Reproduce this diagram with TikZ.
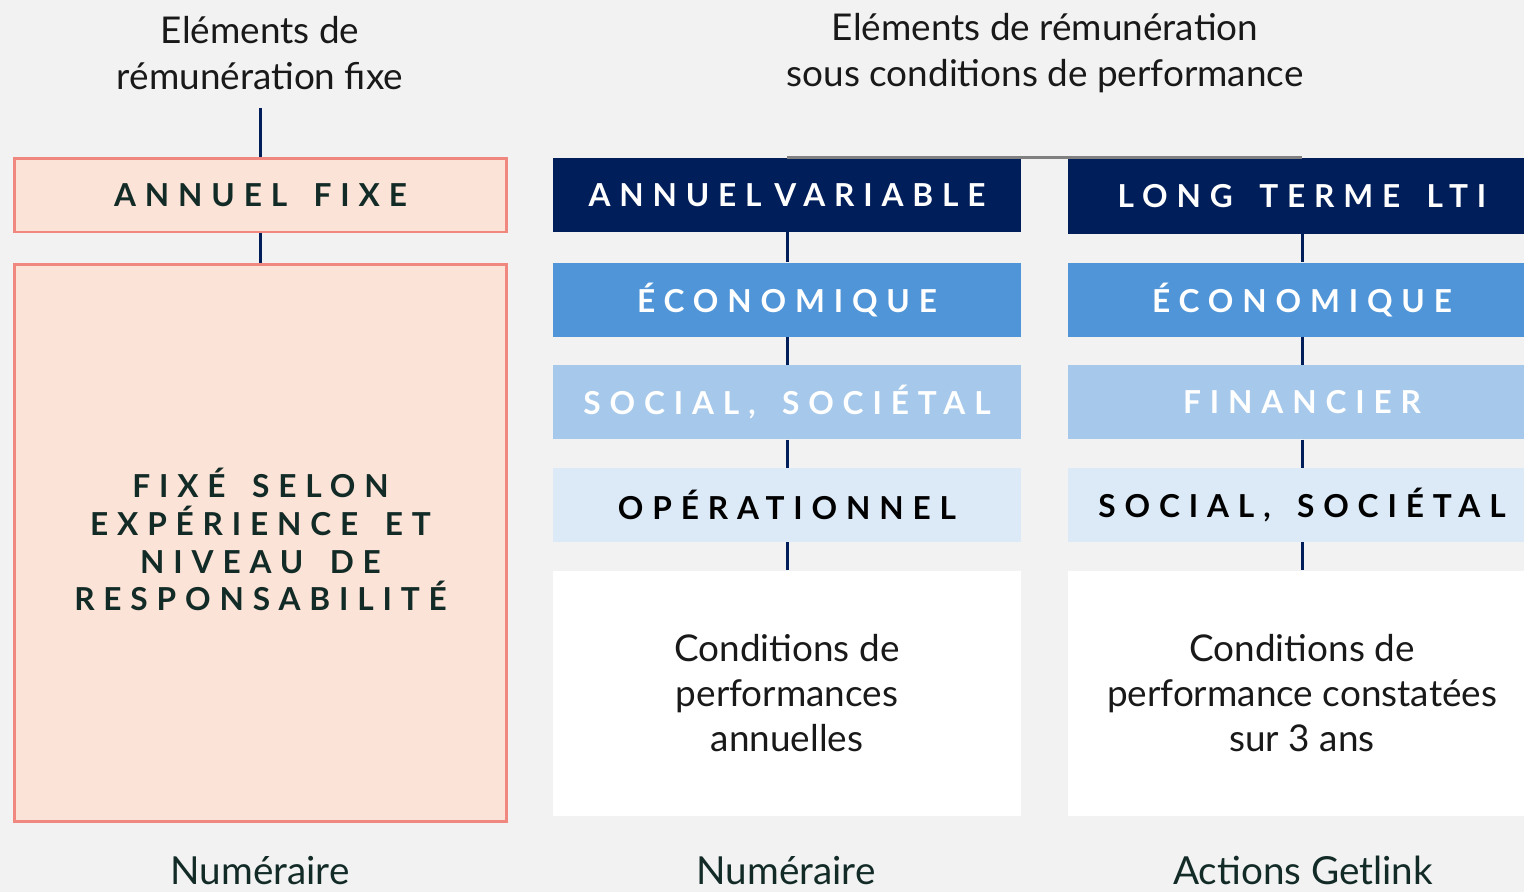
\documentclass[tikz,border=0pt]{standalone}
\usepackage{fontspec}
\setmainfont{Lato}
\newfontfamily\capsfont[LetterSpace=28, WordSpace=1.6]{Lato}
\usetikzlibrary{positioning}

\definecolor{bggray}{HTML}{F2F2F2}
\definecolor{navy}{HTML}{001E5A}
\definecolor{ecoblue}{HTML}{4F95D8}
\definecolor{socblue}{HTML}{A6C9EB}
\definecolor{opeblue}{HTML}{DCE9F6}
\definecolor{salmon}{HTML}{F08880}
\definecolor{peach}{HTML}{FCE3D7}
\definecolor{darkink}{HTML}{132B27}
\definecolor{midgray}{HTML}{808080}

\tikzset{
  title/.style={align=center, text=black!90, font=\fontsize{21}{26}\selectfont},
  capsbox/.style={minimum width=9.36cm, minimum height=1.48cm, inner sep=0pt, align=center,
    font=\capsfont\bfseries\fontsize{18}{21.5}\selectfont},
  fixebox/.style={capsbox, minimum width=9.86cm, fill=peach, draw=salmon, line width=1.7pt, text=darkink},
  bodybox/.style={minimum width=9.36cm, minimum height=4.9cm, inner sep=0pt, align=center,
    fill=white, text=black!90, font=\fontsize{21}{25.5}\selectfont},
  paylabel/.style={anchor=base, text=darkink, font=\fontsize{22}{26}\selectfont},
  link/.style={draw=navy, line width=1.7pt},
  graylink/.style={draw=midgray, line width=1.7pt},
}

\begin{document}
\begin{tikzpicture}[x=0.02cm, y=-0.02cm, node distance=0.56cm]
\fill[bggray] (0,0) rectangle (1524,892);
\useasboundingbox (0,0) rectangle (1524,892);

\node[title] (tfixe) at (260,53) {Eléments de\\rémunération fixe};
\node[title] (tperf) at (1045,53) {Eléments de rémunération\\sous conditions de performance};

\node[fixebox] (fixe) at (260.5,195) {ANNUEL FIXE};
\node[fixebox, minimum height=11.14cm, below=0.6cm of fixe] (fixedet)
  {FIXÉ SELON\\EXPÉRIENCE ET\\NIVEAU DE\\RESPONSABILITÉ\rule[-0.25em]{0pt}{0pt}};

\node[capsbox, fill=navy, text=white] (av) at (787,195) {ANNUEL\hspace{0.4em}VARIABLE};
\node[capsbox, fill=ecoblue, text=white, below=0.6cm of av] (aveco) {ÉCONOMIQUE};
\node[capsbox, fill=socblue, text=white, below=of aveco] (avsoc) {SOCIAL, SOCIÉTAL};
\node[capsbox, fill=opeblue, text=black, below=of avsoc] (avope) {OPÉRATIONNEL};
\node[bodybox, below=of avope] (avcond) {Conditions de\\performances\\annuelles};

\node[capsbox, fill=navy, text=white, minimum height=1.52cm] (lti) at (1302,196) {LONG TERME LTI};
\node[capsbox, fill=ecoblue, text=white, below=of lti] (ltieco) {ÉCONOMIQUE};
\node[capsbox, fill=socblue, text=white, below=of ltieco] (ltifin) {FINANCIER};
\node[capsbox, fill=opeblue, text=black, below=of ltifin] (ltisoc) {SOCIAL, SOCIÉTAL};
\node[bodybox, below=of ltisoc] (lticond) {Conditions de\\performance constatées\\sur 3 ans};

\node[paylabel] (payfixe) at (260,884) {Numéraire};
\node[paylabel] (payvar) at (786,884) {Numéraire};
\node[paylabel] (paylti) at (1303,884) {Actions Getlink};

\coordinate (topfixe) at (260.5,108);
\draw[link] (topfixe) -- (fixe.north);
\draw[link] (fixe) -- (fixedet);
\foreach \a/\b in {av/aveco, aveco/avsoc, avsoc/avope, avope/avcond,
                   lti/ltieco, ltieco/ltifin, ltifin/ltisoc, ltisoc/lticond}
  \draw[link] (\a) -- (\b);
\draw[graylink] (av.north) -- (lti.north);
\end{tikzpicture}
\end{document}
